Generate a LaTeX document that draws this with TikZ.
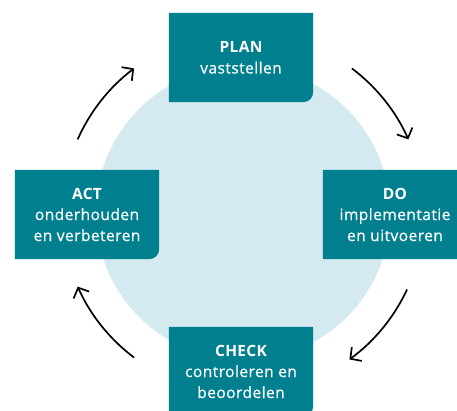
\documentclass[tikz,border=0pt]{standalone}
\usepackage{fontspec}
\setmainfont{Open Sans}[LetterSpace=3]
\newfontfamily\boxfont{Open Sans}[LetterSpace=3,FakeBold=0.6]
\usetikzlibrary{arrows.meta}
\definecolor{boxteal}{HTML}{00808F}
\definecolor{circblue}{HTML}{D4EAF0}
\pgfdeclarelayer{bg}
\pgfsetlayers{bg,main}
\tikzset{
  stepbox/.style={minimum width=144pt, minimum height=89pt, inner sep=0pt,
    align=center, text=white, font=\boxfont\fontsize{15.5}{21}\selectfont},
  cyclearrow/.style={line width=1.7pt, -{Straight Barb[length=8pt,width=17pt,line width=1.7pt]}}
}
\newcommand{\boxfillpath}[1]{%
  \fill[boxteal] (#1.south west) -- (#1.north west) -- (#1.north east)
    -- ([yshift=10pt]#1.south east) arc[start angle=0,end angle=-90,radius=10pt] -- cycle;}
\newcommand{\hd}[1]{{\fontspec{Open Sans}[LetterSpace=2]\bfseries #1}}
\begin{document}
\begin{tikzpicture}[x=1pt,y=1pt]
\useasboundingbox (0,0) rectangle (457,411);
\clip (0,0) rectangle (457,411);
\coordinate (ctr) at (243,198);
\node[stepbox] (plan) at (241,353.5) {\hd{PLAN}\\vaststellen};
\node[stepbox] (act) at (87,196.5) {\hd{ACT}\\onderhouden\\en verbeteren};
\node[stepbox] (do) at (395,196.5) {\hd{DO}\\implementatie\\en uitvoeren};
\node[stepbox] (check) at (241,39.5) {\hd{CHECK}\\controleren en\\beoordelen};
\begin{pgfonlayer}{bg}
  \fill[circblue] (ctr) circle[radius=147];
  \boxfillpath{plan}
  \boxfillpath{act}
  \boxfillpath{do}
  \boxfillpath{check}
\end{pgfonlayer}
\draw[cyclearrow] ([shift={(156:181)}]ctr) arc[start angle=156,end angle=127,radius=181];
\draw[cyclearrow] ([shift={(53:181)}]ctr) arc[start angle=53,end angle=24,radius=181];
\draw[cyclearrow] ([shift={(-25:181)}]ctr) arc[start angle=-25,end angle=-54,radius=181];
\draw[cyclearrow] ([shift={(-127:181)}]ctr) arc[start angle=-127,end angle=-156,radius=181];
\end{tikzpicture}
\end{document}
